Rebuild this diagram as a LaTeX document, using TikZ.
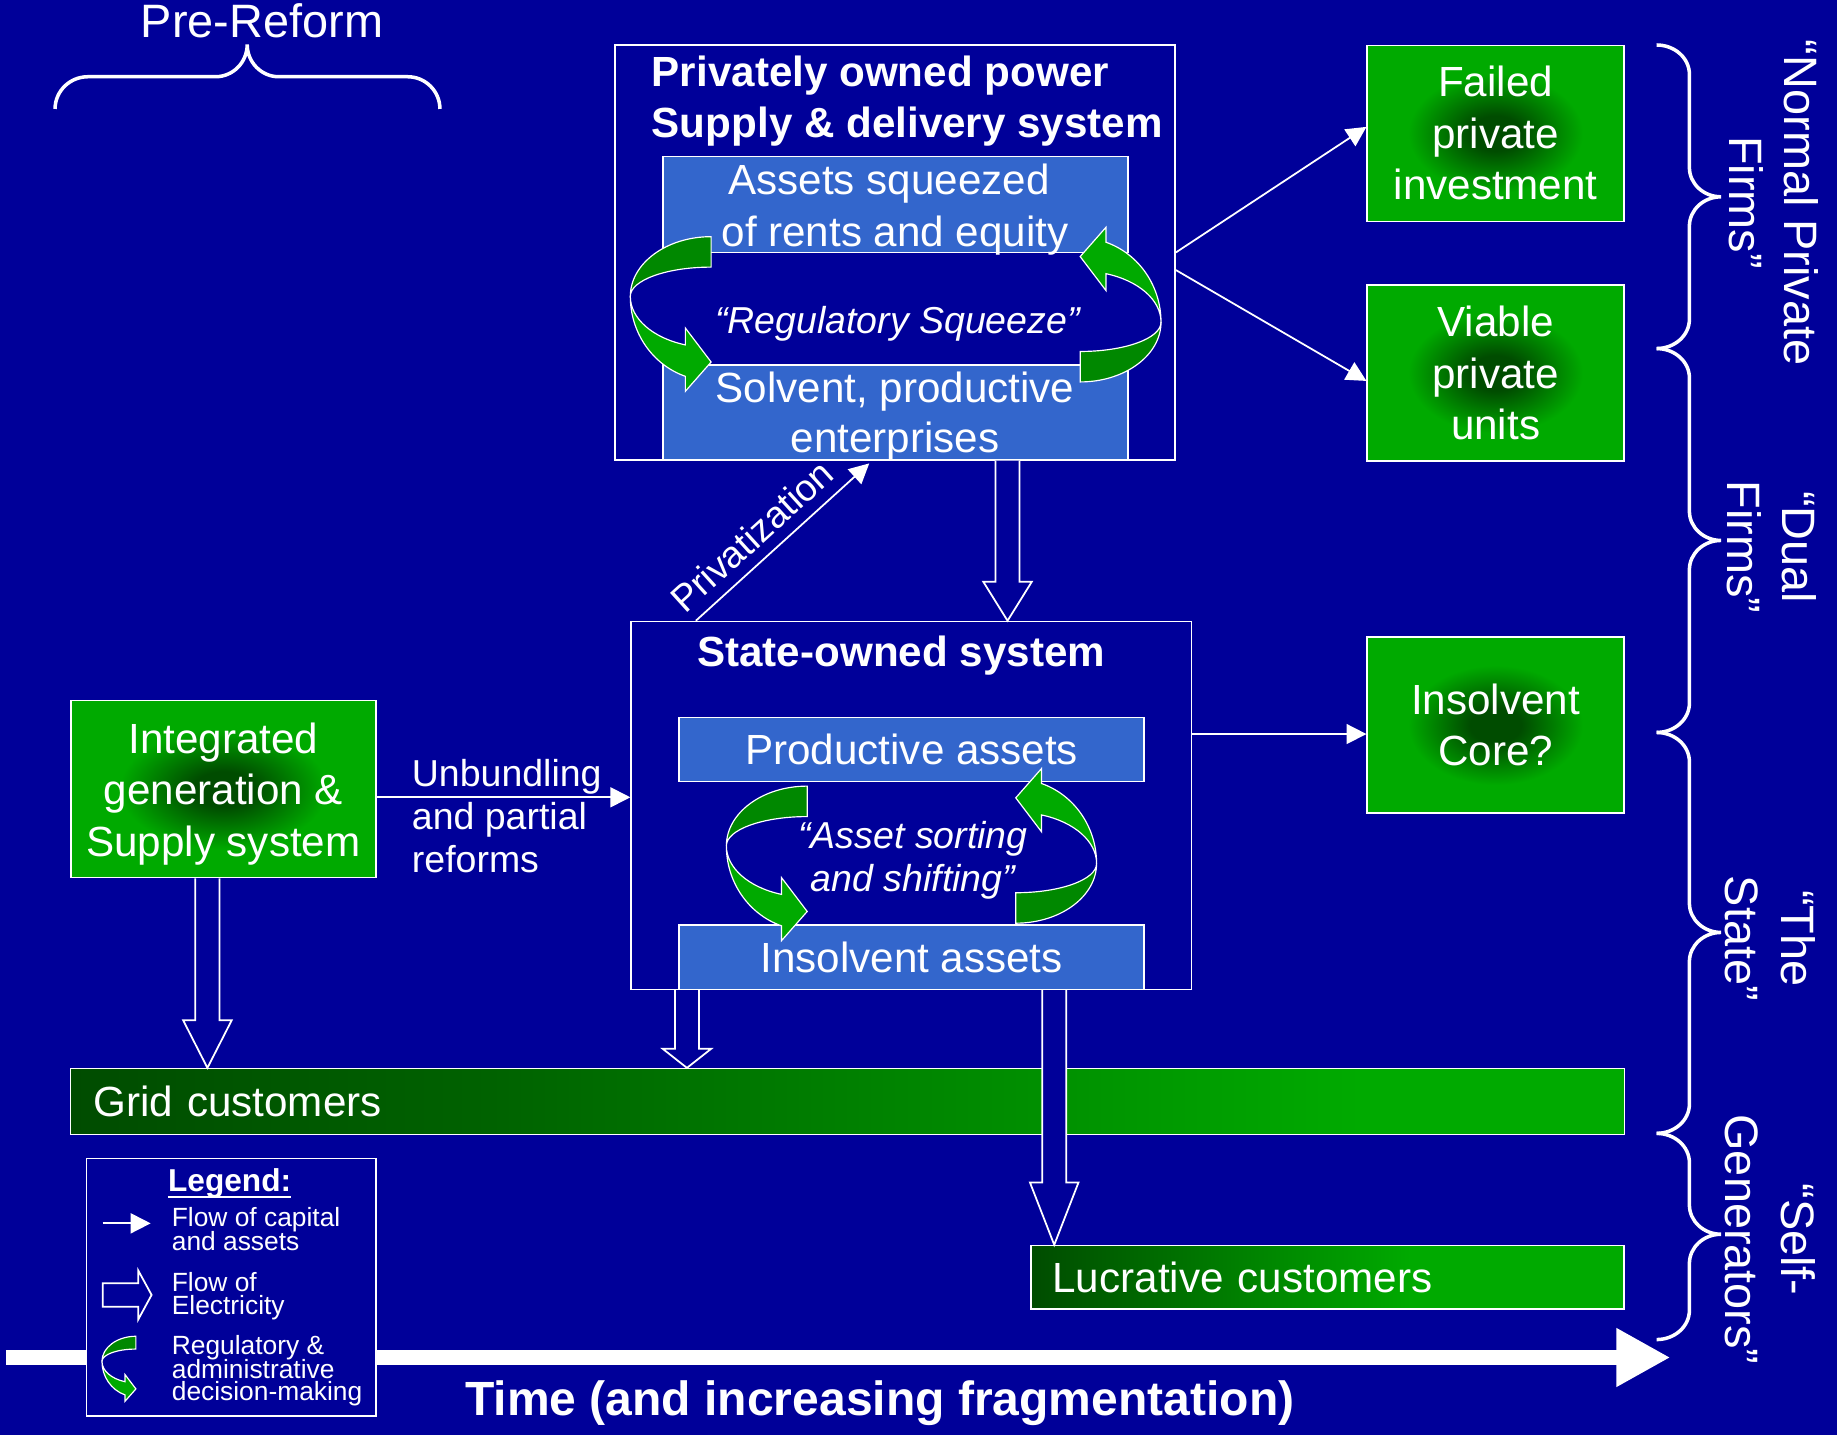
\documentclass[tikz,border=0pt]{standalone}
\usepackage{fontspec}
\setmainfont{Liberation Sans}
\usetikzlibrary{arrows.meta,calc}
\definecolor{bg}{RGB}{0,0,153}
\definecolor{lblue}{RGB}{51,102,204}
\definecolor{gbright}{RGB}{0,170,0}
\definecolor{gback}{RGB}{0,136,0}
\definecolor{gcenter}{RGB}{0,76,0}
\definecolor{gdk}{RGB}{0,76,0}
\definecolor{gmd}{RGB}{0,98,0}
\pgfdeclareradialshading{greenrad}{\pgfpoint{0bp}{0bp}}{color(0bp)=(gcenter); color(5bp)=(gcenter); color(17bp)=(gbright); color(50bp)=(gbright)}
\pgfdeclarehorizontalshading{gridsh}{100bp}{color(0bp)=(gdk); color(25bp)=(gdk); color(38.5bp)=(gmd); color(66.5bp)=(gbright); color(100bp)=(gbright)}
\pgfdeclarehorizontalshading{lucsh}{100bp}{color(0bp)=(gdk); color(25bp)=(gdk); color(57bp)=(gbright); color(100bp)=(gbright)}
\newcommand\fsz[2]{\fontsize{#1}{#2}\selectfont}
\newcommand\hollowdown[3]{%
  \filldraw[harrow] let \p1=(#1), \p2=(#2) in
    (\x1-10.3pt,\y1) -- (\x1-10.3pt,\y2+#3) -- (\x1-20.7pt,\y2+#3) -- (\x1,\y2)
    -- (\x1+20.7pt,\y2+#3) -- (\x1+10.3pt,\y2+#3) -- (\x1+10.3pt,\y1);}
\newcommand\sidebrace[3]{%
  \draw[bracestyle] (1414,#1) arc[start angle=270,end angle=360,x radius=28,y radius=25]
    -- (1442,#2-25) arc[start angle=180,end angle=90,x radius=27,y radius=25]
    arc[start angle=270,end angle=180,x radius=27,y radius=25]
    -- (1442,#3-25) arc[start angle=0,end angle=90,x radius=28,y radius=25];}
\tikzset{
  curvarrow/.pic={
    \filldraw[fill=gback, draw=white, line width=1pt]
      (0,-51) arc[start angle=270, end angle=180, x radius=69, y radius=51]
      arc[start angle=180, end angle=270, x radius=69, y radius=25] -- cycle;
    \filldraw[fill=gbright, draw=white, line width=1pt]
      (-69,0) arc[start angle=180, end angle=108.6, x radius=69, y radius=72]
      -- (-22,81) -- (0,56) -- (-22,27) -- (-22,41.4)
      arc[start angle=108.6, end angle=180, x radius=69, y radius=43.7] -- cycle;
  }
}
\begin{document}
\begin{tikzpicture}[x=1pt,y=-1pt,
  wbox/.style={draw=white, line width=1.3pt, inner sep=0pt},
  bluebox/.style={wbox, fill=lblue, text=white, font=\fsz{36}{44}},
  greenbox/.style={wbox, shade, shading=greenrad, text=white, align=center, font=\fsz{36}{44}},
  txt/.style={text=white, inner sep=0pt, anchor=base},
  tarrow/.style={draw=white, line width=1.5pt, -{Triangle[length=17pt,width=17pt]}},
  harrow/.style={draw=white, fill=bg, line width=1.5pt, line join=miter},
  bracestyle/.style={draw=white, line width=3pt},
  sidelabel/.style={text=white, inner sep=0pt, rotate=-90, align=center, font=\fsz{40}{47}}
]
\useasboundingbox (0,0) rectangle (1568,1225);
\fill[bg] (0,0) rectangle (1568,1225);

% Pre-reform
\node[txt, font=\fsz{40}{48}] (pre) at (223.7,32) {Pre-Reform};
\draw[bracestyle] (47,93) arc[start angle=180,end angle=270,x radius=28,y radius=27.5]
  -- (184,65.5) arc[start angle=90,end angle=0,x radius=27,y radius=27.5]
  arc[start angle=180,end angle=90,x radius=27,y radius=27.5]
  -- (348,65.5) arc[start angle=270,end angle=360,x radius=27.5,y radius=27.5];

% Privately owned system
\node[wbox, minimum width=478pt, minimum height=354.2pt] (prv) at (764,215.5) {};
\node[bluebox, minimum width=397pt, minimum height=82pt] (asq) at (764.5,174.7) {};
\node[bluebox, minimum width=397pt, minimum height=81.1pt] (solv) at (764.5,352) {};
\pic at (607,253) {curvarrow};
\pic[rotate=180] at (922,275) {curvarrow};
\node[txt, anchor=base west, font=\bfseries\fsz{36}{44}] (pt1) at (556.2,74) {Privately owned power};
\node[txt, anchor=base west, font=\bfseries\fsz{36}{44}] (pt2) at (556.2,117.2) {Supply \& delivery system};
\node[txt, font=\fsz{36}{44}] (aq1) at (758.8,166.4) {Assets squeezed};
\node[txt, font=\fsz{36}{44}] (aq2) at (764,210.5) {of rents and equity};
\node[txt, font=\itshape\fsz{32}{38}] (rs) at (766,284.5) {“Regulatory Squeeze”};
\node[txt, font=\fsz{36}{44}] (sv1) at (764,343.7) {Solvent, productive};
\node[txt, font=\fsz{36}{44}] (sv2) at (764,386.4) {enterprises};

% State-owned system
\node[wbox, minimum width=478.3pt, minimum height=313.9pt] (sos) at (777.85,687.45) {};
\node[bluebox, minimum width=396.9pt, minimum height=54.9pt] (prod) at (778.15,639.75) {Productive assets};
\node[bluebox, minimum width=396.9pt, minimum height=54.9pt] (insa) at (778.15,816.95) {Insolvent assets};
\pic at (689,722) {curvarrow};
\pic[rotate=180] at (867,737) {curvarrow};
\node[txt, font=\bfseries\fsz{36}{44}] (sost) at (769.2,569) {State-owned system};
\node[txt, font=\itshape\fsz{32}{38}] (as1) at (779.3,724.1) {“Asset sorting};
\node[txt, font=\itshape\fsz{32}{38}] (as2) at (779.3,761) {and shifting”};

% Green boxes
\node[greenbox, minimum width=219.2pt, minimum height=150.2pt] (failed) at (1276.6,113.8) {Failed\\private\\investment};
\node[greenbox, minimum width=219.2pt, minimum height=150.3pt] (viable) at (1276.6,318.45) {Viable\\private\\units};
\node[greenbox, minimum width=219.2pt, minimum height=150.3pt] (core) at (1276.6,618.95) {Insolvent\\Core?};
\node[greenbox, minimum width=260.5pt, minimum height=151.1pt] (integ) at (190.65,673.55) {};
\node[text=white, inner sep=0pt, align=center, font=\fsz{36}{44}] (integt) at (190.65,677.6) {Integrated\\generation \&\\Supply system};

% Customer bars
\node[draw=white, line width=0.8pt, shade, shading=gridsh, text=white, font=\fsz{36}{44},
  text width=1287.2pt, align=left, inner xsep=19.3pt, inner ysep=0pt, minimum height=56.3pt] (grid) at (723.3,940.05) {Grid customers};
\node[draw=white, line width=1.3pt, shade, shading=lucsh, text=white, font=\fsz{36}{44},
  text width=469.2pt, align=left, inner xsep=18.6pt, inner ysep=0pt, minimum height=54.3pt] (lucr) at (1133,1090.35) {Lucrative customers};

% Thin arrows (capital and assets)
\draw[tarrow] (prv.east) -- ([yshift=5.5pt]failed.west);
\draw[tarrow] ([yshift=-15pt]prv.east) -- ([yshift=-6.7pt]viable.west);
\coordinate (c3) at ([yshift=-7.6pt]core.west);
\draw[tarrow] (c3 -| sos.east) -- (c3);
\coordinate (u1) at ([yshift=-7pt]integ.east);
\draw[tarrow] (u1) -- (u1 -| sos.west);
\node[txt, anchor=base west, font=\fsz{32}{38}] (ub1) at (351.4,671) {Unbundling};
\node[txt, anchor=base west, font=\fsz{32}{38}] (ub2) at (351.4,708) {and partial};
\node[txt, anchor=base west, font=\fsz{32}{38}] (ub3) at (351.4,745) {reforms};
\coordinate (pz0) at ([xshift=55.9pt]sos.north west);
\coordinate (pz1) at ([xshift=217.6pt,yshift=-2.3pt]prv.south west);
\draw[tarrow] (pz0) -- node[sloped, pos=0.42, above=9pt, inner sep=0pt, text=white, font=\fsz{32}{38}] (pzl) {Privatization} (pz1);

% Hollow arrows (electricity)
\coordinate (h1s) at ([xshift=96pt]prv.south);
\hollowdown{h1s}{h1s |- sos.north}{33.3pt}
\coordinate (h2s) at ([xshift=-13.6pt]integ.south);
\hollowdown{h2s}{h2s |- grid.north}{40.6pt}
\coordinate (h3s) at ([xshift=48.3pt]sos.south west);
\hollowdown{h3s}{h3s |- grid.north}{16.3pt}
\coordinate (h4s) at ([xshift=361.8pt]sos.south west);
\hollowdown{h4s}{h4s |- lucr.north}{53.2pt}

% Time axis
\coordinate (t0) at (5,1158.7);
\coordinate (t1) at (1425.8,1158.7);
\draw[white, line width=12.8pt, -{Triangle[length=46.2pt,width=47pt]}] (t0) -- (t1);
\node[txt, font=\bfseries\fsz{41}{50}] (time) at (751,1207.8) {Time (and increasing fragmentation)};

% Legend
\node[wbox, fill=bg, minimum width=246.9pt, minimum height=219.9pt] (leg) at (197.45,1098.65) {};
\node[txt, font=\bfseries\fsz{27}{32}] (legt) at (196,1017) {Legend:};
\draw[white, line width=2.2pt] ($(legt.base west)+(0,4.6)$) -- ($(legt.base east)+(0,4.6)$);
\coordinate (la0) at (87.6,1044.2);
\coordinate (la1) at (128.6,1044.2);
\draw[tarrow] (la0) -- (la1);
\filldraw[harrow] (87.6,1095.4) -- (118.1,1095.4) -- (118.1,1084.6) -- (129.4,1105.3)
  -- (118.1,1126.1) -- (118.1,1115.3) -- (87.6,1115.3) -- cycle;
\pic[scale=0.42] at (116,1162) {curvarrow};
\node[txt, anchor=base west, font=\fsz{22.5}{20}] (lg1) at (146.5,1047) {Flow of capital};
\node[txt, anchor=base west, font=\fsz{22.5}{20}] (lg2) at (146.5,1067) {and assets};
\node[txt, anchor=base west, font=\fsz{22.5}{20}] (lg3) at (146.5,1102.5) {Flow of};
\node[txt, anchor=base west, font=\fsz{22.5}{20}] (lg4) at (146.5,1122.4) {Electricity};
\node[txt, anchor=base west, font=\fsz{22.5}{20}] (lg5) at (146.5,1156.5) {Regulatory \&};
\node[txt, anchor=base west, font=\fsz{22.5}{20}] (lg6) at (146.5,1177) {administrative};
\node[txt, anchor=base west, font=\fsz{22.5}{20}] (lg7) at (146.5,1195.5) {decision-making};

% Right braces and labels
\sidebrace{38.4}{168}{297.5}
\sidebrace{297.5}{461.3}{625.2}
\sidebrace{625.2}{795.9}{967.4}
\sidebrace{967.4}{1053.5}{1143.4}
\node[sidelabel] (lnp) at (1514,173) {“Normal Private\\Firms”};
\node[sidelabel] (ldf) at (1512,467) {“Dual\\Firms”};
\node[sidelabel] (lts) at (1511,801) {“The\\State”};
\node[sidelabel] (lsg) at (1511,1058) {“Self-\\Generators”};
\end{tikzpicture}
\end{document}
